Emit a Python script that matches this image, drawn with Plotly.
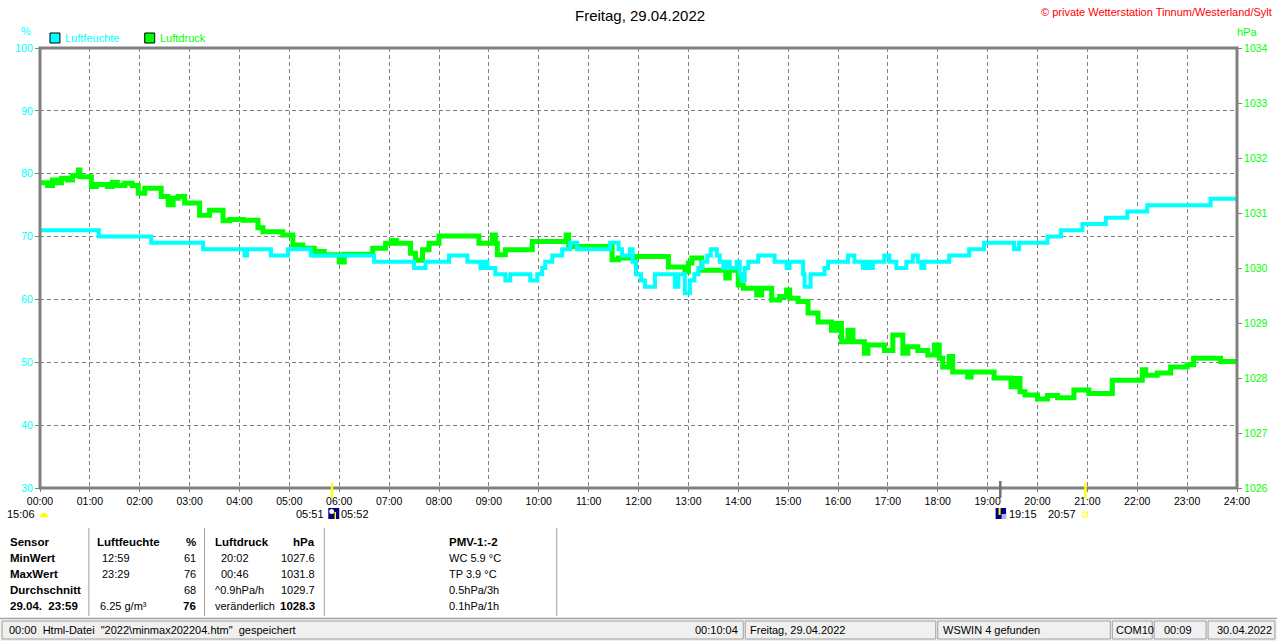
import plotly.graph_objects as go

# ---------------- data ----------------
hum_t = [0, 1.18, 2.23, 3.27, 4.10, 4.15, 4.63, 4.97, 5.43, 6.70, 7.50, 7.73, 8.20, 8.57,
         8.83, 8.90, 8.97, 9.13, 9.33, 9.43, 9.83, 9.97, 10.07, 10.13, 10.27, 10.47, 10.63,
         10.77, 11.43, 11.60, 11.67, 11.83, 11.88, 11.95, 12.05, 12.13, 12.33, 12.73, 12.80,
         12.93, 13.03, 13.12, 13.20, 13.28, 13.38, 13.45, 13.57, 13.63, 13.70, 13.77, 13.83,
         13.97, 14.03, 14.07, 14.13, 14.20, 14.40, 14.73, 14.97, 15.03, 15.30, 15.33, 15.45,
         15.73, 15.80, 16.20, 16.33, 16.50, 16.57, 16.63, 16.70, 16.93, 17.03, 17.17, 17.37,
         17.50, 17.60, 17.67, 17.73, 18.23, 18.63, 18.93, 19.53, 19.63, 20.20, 20.47, 20.90,
         21.37, 21.80, 22.20, 23.47, 24.00]
hum_v = [71, 70, 69, 68, 67, 68, 67, 68, 67, 66, 65, 66, 67, 66,
         65, 66, 65, 64, 63, 64, 63, 64, 65, 66, 67, 68, 69,
         68, 69, 68, 67, 68, 66, 64, 63, 62, 64, 62, 64,
         61, 63, 64, 65, 66, 67, 68, 67, 66, 65, 66, 65,
         66, 64, 63, 65, 66, 67, 66, 65, 66, 64, 62, 64,
         65, 66, 67, 66, 65, 66, 65, 66, 67, 66, 65, 66,
         67, 66, 65, 66, 67, 68, 69, 68, 69, 70, 71, 72,
         73, 74, 75, 76, 76]

pres_t = [0, 0.15, 0.25, 0.35, 0.43, 0.55, 0.65, 0.77, 0.80, 1.03, 1.13, 1.35, 1.45, 1.55,
          1.70, 1.85, 1.97, 2.10, 2.43, 2.57, 2.67, 2.77, 2.90, 3.20, 3.40, 3.67, 3.80, 4.07,
          4.37, 4.47, 4.87, 5.07, 5.27, 5.50, 5.60, 5.70, 6.00, 6.10, 6.67, 6.93, 7.05, 7.15,
          7.43, 7.53, 7.67, 7.80, 8.00, 8.80, 9.07, 9.13, 9.17, 9.33, 9.87, 10.55, 10.60,
          11.47, 11.60, 11.93, 12.60, 12.93, 13.00, 13.07, 13.27, 13.75, 13.82, 14.00, 14.10,
          14.37, 14.47, 14.67, 14.83, 14.97, 15.03, 15.20, 15.40, 15.60, 15.87, 15.97, 16.07,
          16.20, 16.30, 16.53, 16.60, 16.93, 17.10, 17.30, 17.40, 17.60, 17.80, 17.93, 18.03,
          18.10, 18.23, 18.30, 18.60, 18.67, 19.13, 19.47, 19.57, 19.65, 19.75, 20.00, 20.20,
          20.40, 20.73, 21.03, 21.50, 22.10, 22.17, 22.40, 22.67, 23.00, 23.13, 23.67, 24.00]
pres_v = [1031.55, 1031.50, 1031.60, 1031.55, 1031.63, 1031.60, 1031.68, 1031.78, 1031.66,
          1031.48, 1031.52, 1031.48, 1031.56, 1031.50, 1031.54, 1031.50, 1031.36, 1031.45,
          1031.30, 1031.15, 1031.27, 1031.30, 1031.18, 1030.96, 1031.05, 1030.86, 1030.88,
          1030.87, 1030.73, 1030.66, 1030.60, 1030.42, 1030.36, 1030.24, 1030.30, 1030.24,
          1030.11, 1030.25, 1030.36, 1030.45, 1030.50, 1030.45, 1030.27, 1030.14, 1030.33,
          1030.45, 1030.58, 1030.45, 1030.60, 1030.45, 1030.24, 1030.33, 1030.48, 1030.60,
          1030.39, 1030.15, 1030.18, 1030.21, 1030.02, 1029.93, 1030.09, 1030.18, 1029.96,
          1029.82, 1029.96, 1029.69, 1029.63, 1029.51, 1029.63, 1029.42, 1029.48, 1029.60,
          1029.45, 1029.39, 1029.18, 1029.02, 1028.87, 1028.99, 1028.66, 1028.87, 1028.66,
          1028.45, 1028.60, 1028.50, 1028.78, 1028.45, 1028.57, 1028.50, 1028.42, 1028.60,
          1028.36, 1028.20, 1028.39, 1028.11, 1028.02, 1028.11, 1028.00, 1027.84, 1027.99,
          1027.75, 1027.69, 1027.62, 1027.68, 1027.64, 1027.78, 1027.72, 1027.96, 1028.15,
          1028.05, 1028.09, 1028.20, 1028.24, 1028.36, 1028.30, 1028.30]

hour_ticks = list(range(25))
hour_labels = [f"{h:02d}:00" for h in hour_ticks]
hum_ticks = [30, 40, 50, 60, 70, 80, 90, 100]
pres_ticks = [1026, 1027, 1028, 1029, 1030, 1031, 1032, 1033, 1034]

title_text = "Freitag, 29.04.2022"
credit_text = "© private Wetterstation Tinnum/Westerland/Sylt"

# table contents
table_rows_y = [542, 558, 574, 590, 606]
col_sensor = ["<b>Sensor</b>", "<b>MinWert</b>", "<b>MaxWert</b>", "<b>Durchschnitt</b>", "<b>29.04.  23:59</b>"]
col_hum_time = ["<b>Luftfeuchte</b>", "12:59", "23:29", "", "6.25 g/m³"]
col_hum_val = ["<b>%</b>", "61", "76", "68", "<b>76</b>"]
col_pres_time = ["<b>Luftdruck</b>", "20:02", "00:46", "^0.9hPa/h", "veränderlich"]
col_pres_val = ["<b>hPa</b>", "1027.6", "1031.8", "1029.7", "<b>1028.3</b>"]
col_extra = ["<b>PMV-1:-2</b>", "WC 5.9 °C", "TP 3.9 °C", "0.5hPa/3h", "0.1hPa/1h"]

status_texts = ["00:00\u00a0 Html-Datei\u00a0 \"2022\\minmax202204.htm\"\u00a0 gespeichert",
                "00:10:04", "Freitag, 29.04.2022", "WSWIN 4 gefunden", "COM10", "00:09", "30.04.2022"]

# ---------------- geometry helpers ----------------
W, H = 1280, 641
L, R, T, B = 40, 40, 48, 153
PW, PH = W - L - R, H - T - B

def px(x):
    return (x - L) / PW

def py(y):
    return (H - B - y) / PH

FONT = "Liberation Sans, Arial, sans-serif"
CYAN = "#00FFFF"
GREEN = "#00FF00"
GRAY = "#808080"

fig = go.Figure()
fig.add_trace(go.Scatter(x=pres_t, y=pres_v, mode="lines", line=dict(color=GREEN, width=5, shape="hv"),
                         yaxis="y", name="Luftdruck", hoverinfo="skip"))
fig.add_trace(go.Scatter(x=hum_t, y=hum_v, mode="lines", line=dict(color=CYAN, width=4, shape="hv"),
                         yaxis="y2", name="Luftfeuchte", hoverinfo="skip"))

ann = []

def text(t, x, y, anchor="left", size=11, color="black"):
    ann.append(dict(text=t, x=px(x), y=py(y), xref="paper", yref="paper", xanchor=anchor,
                    yanchor="middle", showarrow=False, font=dict(family=FONT, size=size, color=color)))

text(title_text, 642, 15, "center", 15)
text(credit_text, 1277, 12, "right", 11, "#FF0000")
text("%", 26, 31, "center", 11, CYAN)
text("hPa", 1250, 32, "center", 11, GREEN)
text("Luftfeuchte", 63, 38, "left", 11, CYAN)
text("Luftdruck", 158, 38, "left", 11, GREEN)

# sun / moon times
text("15:06", 37, 514, "right", 11)
text("05:51", 327, 514, "right", 11)
text("05:52", 340, 514, "left", 11)
text("19:15", 1009, 514, "left", 11)
text("20:57", 1081, 514, "right", 11)

# table
for i, y in enumerate(table_rows_y):
    bsize = 11.5
    text(col_sensor[i], 8, y, "left", bsize)
    text(col_hum_time[i], 95 if i == 0 else (98 if i == 4 else 100), y, "left", bsize if i == 0 else 11)
    text(col_hum_val[i], 198, y, "right", bsize if i in (0, 4) else 11)
    text(col_pres_time[i], 213 if i in (0, 3, 4) else 219, y, "left", bsize if i == 0 else 11)
    text(col_pres_val[i], 318, y, "right", bsize if i in (0, 4) else 11)
    text(col_extra[i], 448, y, "left", bsize if i == 0 else 11)

# status bar
status_x = [7, 742, 750, 943, 1117, 1197, 1218]
status_anchor = ["left", "right", "left", "left", "left", "right", "left"]
for t, x, a in zip(status_texts, status_x, status_anchor):
    text(t, x, 630, a, 11)

shapes = []

def rect(x0, y0, x1, y1, fill=None, line=None, lw=1):
    shapes.append(dict(type="rect", xref="paper", yref="paper", x0=px(x0), x1=px(x1), y0=py(y0), y1=py(y1),
                       fillcolor=fill if fill else "rgba(0,0,0,0)",
                       line=dict(color=line if line else "rgba(0,0,0,0)", width=lw if line else 0)))

def vline(x, y0, y1, color, w):
    shapes.append(dict(type="line", xref="paper", yref="paper", x0=px(x), x1=px(x), y0=py(y0), y1=py(y1),
                       line=dict(color=color, width=w)))

def hline(x0, x1, y, color, w):
    shapes.append(dict(type="line", xref="paper", yref="paper", x0=px(x0), x1=px(x1), y0=py(y), y1=py(y),
                       line=dict(color=color, width=w)))

# legend squares
rect(50, 33, 60, 43, CYAN, "black", 1)
rect(145, 33, 155, 43, GREEN, "black", 1)

# plot frame
shapes.append(dict(type="rect", xref="paper", yref="paper", x0=0, x1=1, y0=0, y1=1,
                   line=dict(color=GRAY, width=3), layer="above"))

# sunrise / sunset markers
vline(332.7, 483, 498, "#FFFF00", 2.5)
vline(1088, 483, 498, "#FFFF00", 2.5)
vline(1002.7, 481, 498, "#707070", 2.5)

# icons
shapes.append(dict(type="path", xref="paper", yref="paper",
                   path=f"M {px(39.5)},{py(517)} Q {px(44)},{py(508)} {px(48.5)},{py(517)} Z",
                   fillcolor="#FFFF00", line=dict(width=0)))
rect(329, 508, 340, 519, "#000080")
shapes.append(dict(type="circle", xref="paper", yref="paper", x0=px(330), x1=px(335), y0=py(514), y1=py(509),
                   fillcolor="white", line=dict(width=0)))
vline(336, 512, 519, "#FFFF00", 1.5)
rect(998, 508, 1008.5, 519, "#000080")
vline(1002, 508, 515, "#FFFF00", 2)
rect(1004, 514, 1008.5, 519, "#AAB4FF")
rect(1085, 512, 1090, 517, None, "#FFFF00", 1)

# table separators
for x in [89, 205, 325, 558]:
    vline(x, 528, 616, "#A0A0A0", 1)

# status bar
hline(0, 1280, 618.5, "#A0A0A0", 1.5)
rect(0, 620, 1280, 641, "#F0F0F0")
for x0, x1 in [(2, 745), (747, 938), (940, 1113), (1115, 1155), (1157, 1209), (1211, 1278)]:
    rect(x0, 621, x1, 639, "#F0F0F0", "#A0A0A0", 1)

fig.update_layout(
    width=W, height=H, autosize=False,
    margin=dict(l=L, r=R, t=T, b=B, pad=0),
    paper_bgcolor="white", plot_bgcolor="white",
    showlegend=False,
    font=dict(family=FONT, size=11, color="black"),
    xaxis=dict(range=[0, 24], tickvals=hour_ticks, ticktext=hour_labels, showgrid=True,
               gridcolor=GRAY, griddash="4px,3px", gridwidth=1, ticks="outside", ticklen=3,
               tickcolor=GRAY, tickfont=dict(family=FONT, size=10.5, color="black"),
               zeroline=False, showline=False, fixedrange=True),
    yaxis=dict(range=[1026, 1034], tickvals=pres_ticks, side="right", showgrid=False,
               ticks="outside", ticklen=4, tickcolor=GRAY,
               tickfont=dict(family=FONT, size=10.5, color=GREEN), zeroline=False, showline=False),
    yaxis2=dict(range=[30, 100], tickvals=hum_ticks, side="left", overlaying="y", showgrid=True,
                gridcolor=GRAY, griddash="4px,3px", gridwidth=1, ticks="outside", ticklen=4,
                tickcolor=GRAY, tickfont=dict(family=FONT, size=10.5, color=CYAN),
                zeroline=False, showline=False),
    annotations=ann,
    shapes=shapes,
)

fig.write_html("out.html", config={"displayModeBar": False, "staticPlot": True},
               post_script="document.body.style.margin='0';document.body.style.overflow='hidden';")
